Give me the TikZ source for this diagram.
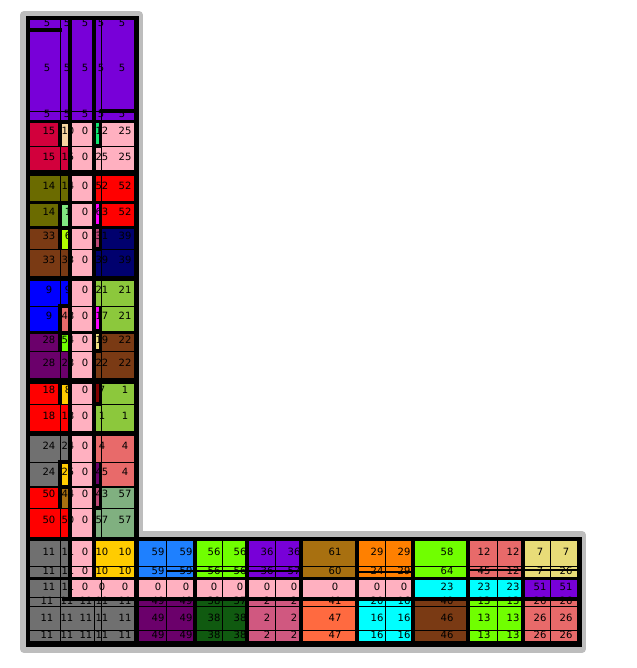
\documentclass[tikz,border=0pt]{standalone}
\usepackage{fontspec}
\setmainfont{DejaVu Sans}
\definecolor{purpA}{HTML}{7800D8}
\definecolor{crim}{HTML}{D2003C}
\definecolor{pinkc}{HTML}{FFB0C0}
\definecolor{tanc}{HTML}{F5D5A0}
\definecolor{sgreen}{HTML}{10E870}
\definecolor{olivc}{HTML}{6B6B00}
\definecolor{redc}{HTML}{FF0000}
\definecolor{lgreen}{HTML}{80E880}
\definecolor{magc}{HTML}{FF00FF}
\definecolor{brownc}{HTML}{7A3A14}
\definecolor{ygreen}{HTML}{B0FF00}
\definecolor{dpink}{HTML}{C04A78}
\definecolor{navyc}{HTML}{00006E}
\definecolor{blueb}{HTML}{0000FF}
\definecolor{ygc}{HTML}{8CC83C}
\definecolor{salm}{HTML}{E86A6A}
\definecolor{plum}{HTML}{6B006B}
\definecolor{limec}{HTML}{70FF00}
\definecolor{lyel}{HTML}{F0E080}
\definecolor{goldc}{HTML}{FFCC00}
\definecolor{dred}{HTML}{800000}
\definecolor{grayc}{HTML}{707070}
\definecolor{dgold}{HTML}{A87010}
\definecolor{sage}{HTML}{80B080}
\definecolor{bluesky}{HTML}{1E80FF}
\definecolor{orangec}{HTML}{FF8000}
\definecolor{khakic}{HTML}{E8DC78}
\definecolor{cyanc}{HTML}{00FFFF}
\definecolor{grnd}{HTML}{105A10}
\definecolor{pinktwo}{HTML}{D05880}
\definecolor{coralc}{HTML}{FF6A40}
\definecolor{frameg}{HTML}{BDBDBD}
\begin{document}
\begin{tikzpicture}[x=1pt,y=-1pt,
  lbl/.style={font=\fontsize{10}{10}\selectfont, inner sep=0pt},
  cell/.style={draw=black, line width=0.7pt},
  heavy/.style={draw=black, line width=3.5pt},
  mid/.style={draw=black, line width=2pt}]
\useasboundingbox (0,0) rectangle (636,668);
% outer gray outline and black ground
\draw[frameg, line width=8pt, line join=round] (24,15) -- (139,15) -- (139,535) -- (582,535) -- (582,649) -- (24,649) -- cycle;
\fill[black] (27,18) -- (137,18) -- (137,538) -- (580,538) -- (580,645) -- (27,645) -- cycle;
% top purple block
\filldraw[cell, fill=purpA] (29,19) rectangle (134,120);
\draw[cell] (29,111) -- (134,111) (60,19) -- (60,120) (101,19) -- (101,120);
\foreach \ly in {23,68,114}{
  \foreach \lx in {47,67,85,101,122}{\node[lbl] at (\lx,\ly) {5};}
}
% vertical arm rows
\foreach \ya/\yb/\ly/\ca/\la/\cb/\lb/\cd/\ld/\ce/\le in {
 122/146/131/crim/15/tanc/10/sgreen/12/pinkc/25,
 146/170/157/crim/15/crim/15/pinkc/25/pinkc/25,
 175/201/186/olivc/14/olivc/14/redc/52/redc/52,
 203/226/212/olivc/14/lgreen/1/magc/63/redc/52,
 228/249/236/brownc/33/ygreen/6/dpink/31/navyc/39,
 249/276/260/brownc/33/brownc/33/navyc/39/navyc/39,
 280/306/290/blueb/9/blueb/9/ygc/21/ygc/21,
 306/331/316/blueb/9/salm/48/magc/17/ygc/21,
 333/351/340/plum/28/limec/54/lyel/19/brownc/22,
 351/378/363/plum/28/plum/28/brownc/22/brownc/22,
 383/404/390/redc/18/goldc/8/dred/7/ygc/1,
 404/431/416/redc/18/redc/18/ygc/1/ygc/1,
 435/462/446/grayc/24/grayc/24/salm/4/salm/4,
 462/486/472/grayc/24/goldc/25/plum/45/salm/4,
 487/508/494/redc/50/dgold/44/dpink/43/sage/57,
 508/537/520/redc/50/redc/50/sage/57/sage/57}{
  \filldraw[cell, fill=\ca] (29,\ya) rectangle (60,\yb);
  \filldraw[cell, fill=\cb] (60,\ya) rectangle (70,\yb);
  \filldraw[cell, fill=pinkc] (70,\ya) rectangle (94,\yb);
  \filldraw[cell, fill=\cd] (94,\ya) rectangle (101,\yb);
  \filldraw[cell, fill=\ce] (101,\ya) rectangle (134,\yb);
  \node[lbl] at (49,\ly) {\la};
  \node[lbl] at (68,\ly) {\lb};
  \node[lbl] at (85,\ly) {0};
  \node[lbl] at (102,\ly) {\ld};
  \node[lbl] at (125,\ly) {\le};
}
% bottom arm, left part
\filldraw[cell, fill=grayc] (29,540) rectangle (60,578);
\filldraw[cell, fill=grayc] (60,540) rectangle (70,578);
\filldraw[cell, fill=pinkc] (70,540) rectangle (94,578);
\filldraw[cell, fill=goldc] (94,540) rectangle (134,578);
\draw[cell] (29,566) -- (134,566);
\filldraw[cell, fill=grayc] (29,579) rectangle (60,597);
\filldraw[cell, fill=grayc] (60,579) rectangle (70,597);
\filldraw[cell, fill=pinkc] (70,579) rectangle (134,597);
\filldraw[cell, fill=grayc] (29,597) rectangle (134,641);
\draw[cell] (29,606) -- (134,606) (29,630) -- (134,630)
  (60,597) -- (60,641) (94,597) -- (94,641) (101,579) -- (101,641);
\foreach \ly in {552,571}{
  \node[lbl] at (49,\ly) {11}; \node[lbl] at (68,\ly) {11};
  \node[lbl] at (85,\ly) {0}; \node[lbl] at (102,\ly) {10}; \node[lbl] at (125,\ly) {10};}
\node[lbl] at (49,587) {11}; \node[lbl] at (68,587) {11};
\node[lbl] at (85,587) {0}; \node[lbl] at (102,587) {0}; \node[lbl] at (125,587) {0};
\foreach \ly in {601,618,635}{
  \foreach \lx in {47,67,86,102,125}{\node[lbl] at (\lx,\ly) {11};}}
% bottom arm, right columns
\foreach \xa/\xb/\lx/\ct/\la/\lb/\cm/\lc/\cbt/\ld/\le in {
 137/166/158/bluesky/59/59/pinkc/0/plum/49/49,
 166/195/186/bluesky/59/59/pinkc/0/plum/49/49,
 195/222/214/limec/56/56/pinkc/0/grnd/38/38,
 222/247/240/limec/56/56/pinkc/0/grnd/37/38,
 247/275/267/purpA/36/36/pinkc/0/pinktwo/2/2,
 275/300/294/purpA/36/57/pinkc/0/pinktwo/2/2,
 302/357/335/dgold/61/60/pinkc/0/coralc/41/47,
 357/385/377/orangec/29/24/pinkc/0/cyanc/20/16,
 385/412/404/orangec/29/29/pinkc/0/cyanc/16/16,
 413/468/447/limec/58/64/cyanc/23/brownc/40/46,
 468/497/484/salm/12/45/cyanc/23/limec/13/13,
 497/522/513/salm/12/12/cyanc/23/limec/13/13,
 522/550/540/khakic/7/7/purpA/51/salm/26/26,
 550/577/566/khakic/7/26/purpA/51/salm/26/26}{
  \filldraw[cell, fill=\ct] (\xa,540) rectangle (\xb,578);
  \draw[cell] (\xa,566) -- (\xb,566);
  \filldraw[cell, fill=\cm] (\xa,579) rectangle (\xb,597);
  \filldraw[cell, fill=\cbt] (\xa,597) rectangle (\xb,641);
  \draw[cell] (\xa,606) -- (\xb,606) (\xa,630) -- (\xb,630);
  \node[lbl] at (\lx,552) {\la};
  \node[lbl] at (\lx,571) {\lb};
  \node[lbl] at (\lx,587) {\lc};
  \node[lbl] at (\lx,601) {\ld};
  \node[lbl] at (\lx,618) {\le};
  \node[lbl] at (\lx,635) {\le};
}
% heavy lines of the vertical arm
\draw[heavy] (70,18) -- (70,600);
\draw[heavy] (94,18) -- (94,578);
\draw[heavy] (29,30) -- (62,30);
\draw[heavy] (100,111) -- (135,111);
\foreach \ya/\yb in {122/146,203/226,228/249,306/331,333/351,383/404,462/486,487/508}{
  \draw[heavy] (60,\ya) -- (60,\yb);
  \draw[mid] (100,\ya) -- (100,\yb);
  \draw[heavy] (58,\ya) -- (72,\ya);
  \draw[heavy] (92,\yb) -- (102,\yb);
}
% heavy lines of the bottom arm
\draw[heavy] (27,578.5) -- (580,578.5);
\draw[heavy] (62,599) -- (580,599);
\draw[mid] (166,571) -- (300,571);
\draw[mid] (357,572) -- (412,572);
\draw[mid] (468,570) -- (577,570);
\foreach \x in {137,195,247,301,357,413,468,523}{\draw[heavy] (\x,538) -- (\x,645);}
\draw[heavy] (94,538) -- (94,578);
% black frame
\draw[black, line width=3pt] (27,18) -- (137,18) -- (137,538) -- (580,538) -- (580,645) -- (27,645) -- cycle;
\end{tikzpicture}
\end{document}
